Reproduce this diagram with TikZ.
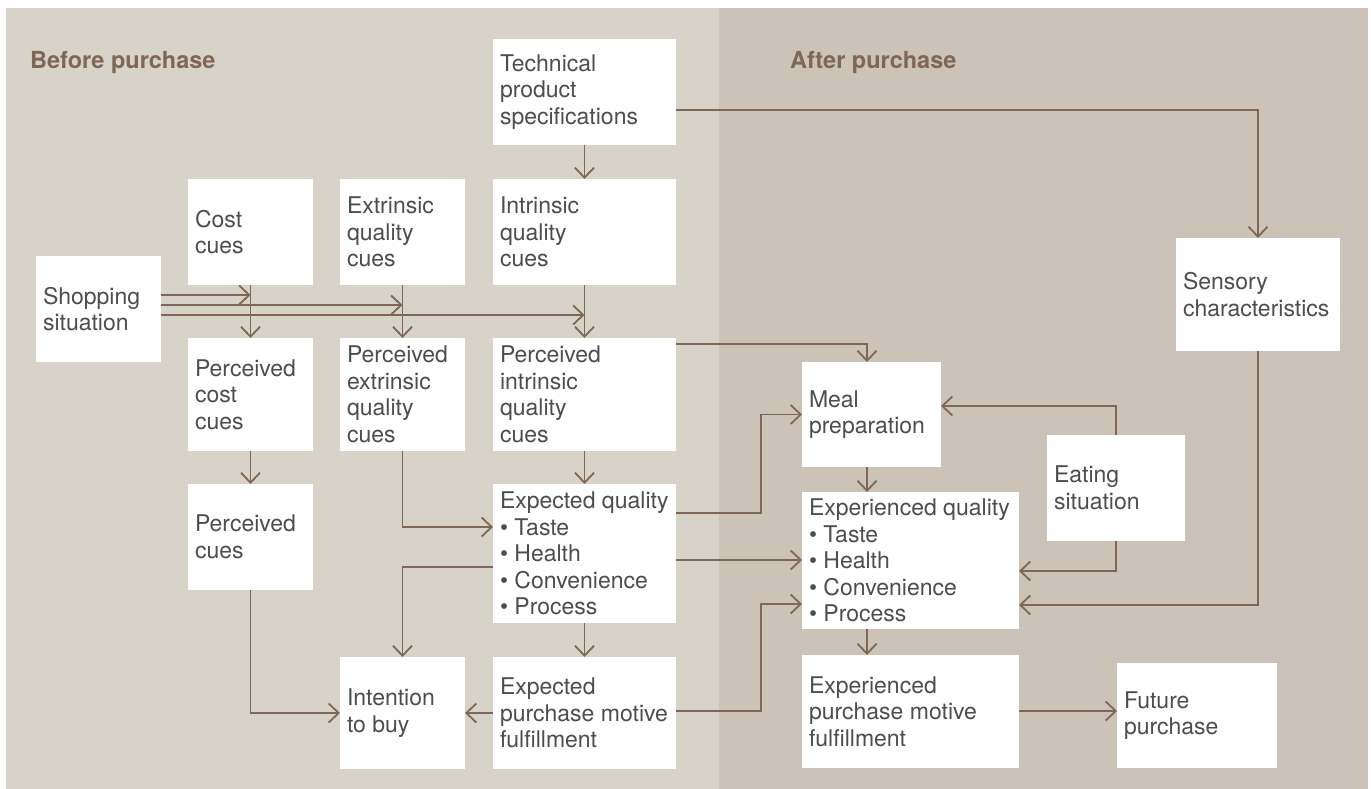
\documentclass[tikz,border=0pt]{standalone}
\usepackage{fontspec}
\setmainfont{TeX Gyre Heros}
\usetikzlibrary{arrows.meta}
\definecolor{bgleft}{HTML}{D8D3C8}
\definecolor{bgright}{HTML}{CBC2B8}
\definecolor{lc}{HTML}{7E6754}
\definecolor{tc}{HTML}{4D4D4D}
\tikzset{
  boxst/.style={rectangle,fill=white,inner sep=0pt,outer sep=0pt},
  txtst/.style={inner sep=0pt,outer sep=0pt,align=left,text=tc,font=\fontsize{23}{26.5}\selectfont},
  ttl/.style={inner sep=0pt,text=lc,font=\fontsize{23.5}{28}\selectfont\bfseries},
  arr/.style={draw=lc,line width=1.8pt,-{Straight Barb[length=10pt,width=19pt,line width=1.8pt]}},
}
\newcommand\bx[6]{%
  \node[boxst,minimum width={(#4-#2)*1pt},minimum height={(#5-#3)*1pt}] (#1) at ({(#2+#4)/2},{(#3+#5)/2}) {};
  \node[txtst,anchor=west] (#1t) at ([xshift=7pt]#1.west) {#6};}
\begin{document}
\begin{tikzpicture}[x=1pt,y=-1pt]
\useasboundingbox (0,0) rectangle (1371,789);
\fill[bgleft] (6,8) rectangle (719,789);
\fill[bgright] (719,8) rectangle (1368,789);
\node[ttl,anchor=base west] (before) at (30,69) {Before purchase};
\node[ttl,anchor=base west] (after) at (790,69) {After purchase};
\bx{shop}{36}{256}{161}{362}{Shopping\\situation}
\bx{cost}{188}{179}{313}{285}{Cost\\cues}
\bx{extr}{340}{179}{465}{285}{Extrinsic\\quality\\cues}
\bx{intr}{493}{179}{676}{285}{Intrinsic\\quality\\cues}
\bx{tech}{493}{39}{676}{145}{Technical\\product\\specifications}
\bx{pcost}{188}{338}{313}{451}{Perceived\\cost\\cues}
\bx{pextr}{340}{338}{465}{451}{Perceived\\extrinsic\\quality\\cues}
\bx{pintr}{493}{338}{676}{451}{Perceived\\intrinsic\\quality\\cues}
\bx{pcues}{188}{484}{313}{590}{Perceived\\cues}
\bx{expq}{493}{484}{676}{623}{Expected quality\\\textbullet\ Taste\\\textbullet\ Health\\\textbullet\ Convenience\\\textbullet\ Process}
\bx{intent}{340}{657}{465}{769}{Intention\\to buy}
\bx{expm}{493}{657}{676}{769}{Expected\\purchase motive\\fulfillment}
\bx{meal}{802}{362}{941}{467}{Meal\\preparation}
\bx{expr}{802}{492}{1019}{629}{Experienced quality\\\textbullet\ Taste\\\textbullet\ Health\\\textbullet\ Convenience\\\textbullet\ Process}
\bx{eat}{1047}{435}{1185}{541}{Eating\\situation}
\bx{sens}{1176}{238}{1340}{351}{Sensory\\characteristics}
\bx{exm}{802}{655}{1019}{768}{Experienced\\purchase motive\\fulfillment}
\bx{fut}{1117}{663}{1277}{768}{Future\\purchase}
% connectors
\draw[arr] (shop.east |- 0,295) -- (cost.south |- 0,295);
\draw[arr] (shop.east |- 0,305) -- (extr.south |- 0,305);
\draw[arr] (shop.east |- 0,315) -- (intr.south |- 0,315);
\draw[arr] (cost.south) -- (pcost.north);
\draw[arr] (extr.south) -- (pextr.north);
\draw[arr] (intr.south) -- (pintr.north);
\draw[arr] (tech.south) -- (intr.north);
\draw[arr] (tech.east |- 0,110) -| (sens.north);
\draw[arr] (pcost.south) -- (pcues.north);
\draw[arr] (pextr.south) |- (expq.west |- 0,527);
\draw[arr] (pintr.south) -- (expq.north);
\draw[arr] (pintr.east |- 0,344) -| (meal.north -| 867,0);
\draw[arr] (expq.east |- 0,513) -| (761,414.5) -- (meal.west);
\draw[arr] (meal.south -| 867,0) -- (expr.north -| 867,0);
\draw[arr] (expq.east |- 0,560) -- (expr.west |- 0,560);
\draw[arr] (expq.west |- 0,567) -| (intent.north);
\draw[arr] (pcues.south) |- (intent.west);
\draw[arr] (expq.south) -- (expm.north);
\draw[arr] (expm.west) -- (intent.east);
\draw[arr] (expm.east |- 0,711) -| (761,604) -- (expr.west |- 0,604);
\draw[arr] (eat.north) |- (meal.east |- 0,406);
\draw[arr] (eat.south) |- (expr.east |- 0,571);
\draw[arr] (sens.south) |- (expr.east |- 0,605);
\draw[arr] (expr.south -| 867,0) -- (exm.north -| 867,0);
\draw[arr] (exm.east |- 0,711) -- (fut.west |- 0,711);
\end{tikzpicture}
\end{document}
